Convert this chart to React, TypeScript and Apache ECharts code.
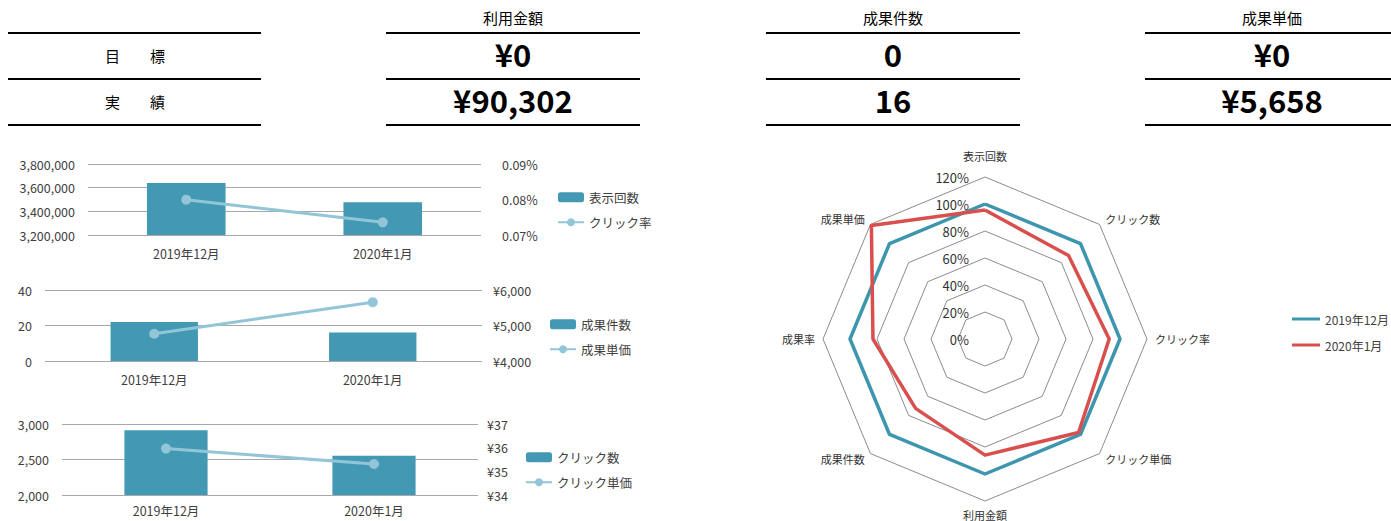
import React, { useEffect, useRef } from 'react';
import * as echarts from 'echarts';

// ---- data ----
const months = ['2019年12月', '2020年1月'];
const impressions = [3639000, 3476000];
const clickRate = [0.07995, 0.07357];
const conversions = [22, 16];
const cpa = [4768, 5658];
const clicks = [2911, 2554];
const cpc = [35.96, 35.31];

const kpiHeaders = ['利用金額', '成果件数', '成果単価'];
const kpiTargets = ['¥0', '0', '¥0'];
const kpiActuals = ['¥90,302', '16', '¥5,658'];
const rowLabels = ['目　　標', '実　　績'];

// clockwise order from top
const radarNames = ['表示回数', 'クリック数', 'クリック率', 'クリック単価', '利用金額', '成果件数', '成果率', '成果単価'];
const radarDec = [100, 100, 100, 100, 100, 100, 100, 100];
const radarJan = [95.5, 87.5, 92, 98, 86, 72.7, 83, 119];

const FONT = 'Noto Sans CJK JP';
const TXT = '#404040';
const BAR = '#4399b3';
const LINE = '#92c5d8';

const yen = (v: number) => '¥' + Math.round(v).toLocaleString('en-US');

export default function App() {
  const ref = useRef<HTMLDivElement>(null);
  useEffect(() => {
    document.body.style.margin = '0';
    const chart = echarts.init(ref.current!, undefined, { renderer: 'svg' });

    const grids = [
      { left: 88, top: 164, width: 393, height: 71 },
      { left: 45, top: 290, width: 437, height: 71 },
      { left: 62, top: 424, width: 416, height: 71 },
    ];
    const xLabelMargins = [12, 12, 9];
    const leftAxes = [
      { min: 3200000, max: 3800000, interval: 200000, fmt: (v: number) => v.toLocaleString('en-US') },
      { min: 0, max: 40, interval: 20, fmt: (v: number) => String(v) },
      { min: 2000, max: 3000, interval: 500, fmt: (v: number) => v.toLocaleString('en-US') },
    ];
    const rightAxes = [
      { min: 0.07, max: 0.09, interval: 0.01, fmt: (v: number) => v.toFixed(2) + '%', margin: 21 },
      { min: 4000, max: 6000, interval: 1000, fmt: (v: number) => yen(v), margin: 11 },
      { min: 34, max: 37, interval: 1, fmt: (v: number) => yen(v), margin: 9 },
    ];
    const barSeries = [
      { name: '表示回数', data: impressions },
      { name: '成果件数', data: conversions },
      { name: 'クリック数', data: clicks },
    ];
    const lineSeries = [
      { name: 'クリック率', data: clickRate },
      { name: '成果単価', data: cpa },
      { name: 'クリック単価', data: cpc },
    ];
    const legendTops = [191, 318, 451];
    const legendLefts = [557, 549, 525];

    const xAxis: any[] = [];
    const yAxis: any[] = [];
    const series: any[] = [];
    const legend: any[] = [];
    grids.forEach((g, i) => {
      xAxis.push({
        type: 'category', gridIndex: i, data: months,
        axisLine: { show: false }, axisTick: { show: false },
        axisLabel: { margin: xLabelMargins[i], fontSize: 12.5, color: TXT, fontFamily: FONT },
      });
      yAxis.push({
        type: 'value', gridIndex: i, min: leftAxes[i].min, max: leftAxes[i].max, interval: leftAxes[i].interval,
        axisLine: { show: false }, axisTick: { show: false },
        axisLabel: { margin: 13, fontSize: 12.5, color: TXT, fontFamily: FONT, formatter: leftAxes[i].fmt },
        splitLine: { lineStyle: { color: '#a8a8a8', width: 1 } },
      });
      yAxis.push({
        type: 'value', gridIndex: i, position: 'right', min: rightAxes[i].min, max: rightAxes[i].max, interval: rightAxes[i].interval,
        axisLine: { show: false }, axisTick: { show: false }, splitLine: { show: false },
        axisLabel: { margin: rightAxes[i].margin, fontSize: 12.5, color: TXT, fontFamily: FONT, formatter: rightAxes[i].fmt },
      });
      series.push({
        type: 'bar', name: barSeries[i].name, xAxisIndex: i, yAxisIndex: i * 2, data: barSeries[i].data,
        barWidth: '40%', itemStyle: { color: BAR },
      });
      series.push({
        type: 'line', name: lineSeries[i].name, xAxisIndex: i, yAxisIndex: i * 2 + 1, data: lineSeries[i].data,
        symbol: 'circle', symbolSize: 10, lineStyle: { color: LINE, width: 3 }, itemStyle: { color: LINE },
      });
      legend.push({
        orient: 'vertical', left: legendLefts[i], top: legendTops[i], padding: 0, itemWidth: 26, itemHeight: 10, itemGap: 12.5,
        data: [barSeries[i].name, lineSeries[i].name],
        textStyle: { fontSize: 12.5, color: TXT, fontFamily: FONT },
      });
    });

    const order = [0, 7, 6, 5, 4, 3, 2, 1];
    const indicator = order.map((k, j) => ({
      name: radarNames[k], min: 0, max: 120,
      ...(j === 0 ? { axisLabel: { show: true }, nameGap: 16 } : {}),
    }));
    series.push({
      type: 'radar', radarIndex: 0, symbol: 'none',
      data: [
        { name: months[0], value: order.map(k => radarDec[k]), lineStyle: { color: '#3d96ae', width: 3.5 }, itemStyle: { color: '#3d96ae' } },
        { name: months[1], value: order.map(k => radarJan[k]), lineStyle: { color: '#d8504d', width: 3.5 }, itemStyle: { color: '#d8504d' } },
      ],
    });
    legend.push({
      orient: 'vertical', left: 1292, top: 313, padding: 0, itemWidth: 28, itemHeight: 3, itemGap: 14, icon: 'rect',
      data: months,
      textStyle: { fontSize: 12, color: TXT, fontFamily: FONT },
    });

    const graphic: any[] = [];
    const lineYs = [33, 79, 125];
    const cols = [
      { x1: 8, x2: 261 },
      { x1: 386, x2: 640 },
      { x1: 766, x2: 1020 },
      { x1: 1145, x2: 1399 },
    ];
    cols.forEach(c => {
      lineYs.forEach(y => {
        graphic.push({ type: 'line', shape: { x1: c.x1, y1: y, x2: c.x2, y2: y }, style: { stroke: '#000', lineWidth: 2 } });
      });
    });
    rowLabels.forEach((t, r) => {
      graphic.push({ type: 'text', x: 135, y: 55 + r * 46, style: { text: t, fontSize: 15, fill: '#000', fontFamily: FONT, textAlign: 'center', textVerticalAlign: 'middle' } });
    });
    kpiHeaders.forEach((h, i) => {
      const cx = (cols[i + 1].x1 + cols[i + 1].x2) / 2;
      graphic.push({ type: 'text', x: cx, y: 17, style: { text: h, fontSize: 15, fill: '#000', fontFamily: FONT, textAlign: 'center', textVerticalAlign: 'middle' } });
      graphic.push({ type: 'text', x: cx, y: 53, style: { text: kpiTargets[i], fontSize: 31, fontWeight: 'bold', fill: '#000', fontFamily: FONT, textAlign: 'center', textVerticalAlign: 'middle' } });
      graphic.push({ type: 'text', x: cx, y: 99, style: { text: kpiActuals[i], fontSize: 31, fontWeight: 'bold', fill: '#000', fontFamily: FONT, textAlign: 'center', textVerticalAlign: 'middle' } });
    });

    chart.setOption({
      animation: false,
      textStyle: { fontFamily: FONT },
      grid: grids,
      xAxis, yAxis, legend, series, graphic,
      radar: {
        center: [985, 339], radius: 162, splitNumber: 6, shape: 'polygon', startAngle: 90,
        indicator,
        axisName: { color: '#333', fontSize: 11, fontFamily: FONT },
        axisNameGap: 8,
        axisLine: { show: false },
        axisTick: { show: false },
        splitArea: { show: false },
        splitLine: { lineStyle: { color: '#8c8c8c', width: 1 } },
        axisLabel: { show: false, fontSize: 13, color: '#333', fontFamily: FONT, formatter: '{value}%', margin: 16 },
      },
    });
    return () => chart.dispose();
  }, []);
  return <div ref={ref} style={{ width: 1391, height: 521 }} />;
}
